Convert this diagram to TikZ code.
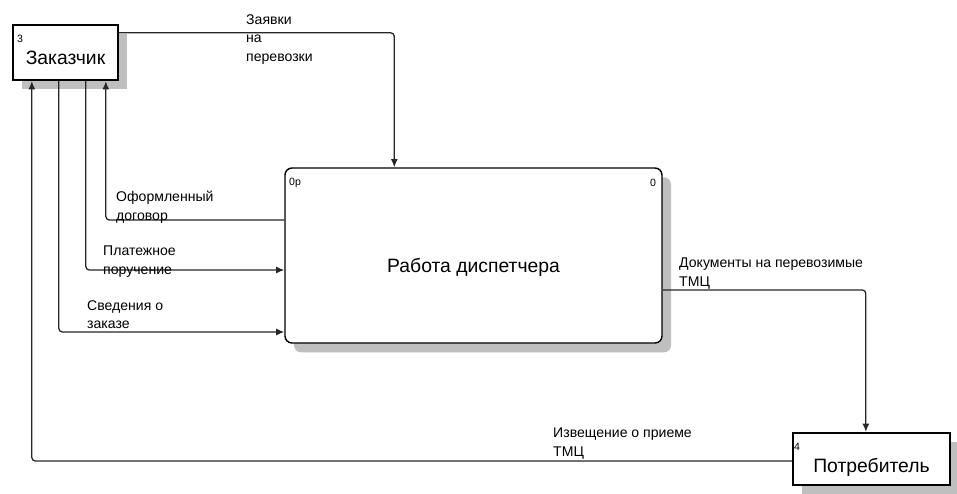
\documentclass[tikz,border=0pt]{standalone}
\usepackage{fontspec}
\setmainfont{Liberation Sans}
\usetikzlibrary{arrows.meta,positioning,calc,shadows}

\begin{document}
\begin{tikzpicture}[
    x=0.03cm, y=-0.03cm,
    extbox/.style={rectangle, draw=black, line width=2pt, fill=white,
                   font=\fontsize{16.5}{20}\selectfont,
                   drop shadow={shadow xshift=0.27cm, shadow yshift=-0.27cm,
                                fill=gray!50, opacity=1}},
    actbox/.style={rectangle, rounded corners=6pt, draw=black, line width=1.2pt, fill=white,
                   font=\fontsize{16.5}{20}\selectfont,
                   minimum width=11.31cm, minimum height=5.25cm,
                   drop shadow={shadow xshift=0.27cm, shadow yshift=-0.28cm,
                                fill=gray!50, opacity=1}},
    numlbl/.style={font=\fontsize{9}{10}\selectfont, inner sep=0pt},
    lbl/.style={font=\fontsize{12}{16}\selectfont, align=left, inner sep=0pt, anchor=north west},
    flow/.style={line width=1.1pt, draw=black!85, rounded corners=3pt,
                 -{Latex[length=7pt,width=6pt]}}
  ]
    \useasboundingbox (0,0) rectangle (957,493);

    \node[extbox, minimum width=3.15cm, minimum height=1.65cm] (zak) at (65.5,52.5)
        {\raisebox{-4.5pt}[\height][\depth]{Заказчик}};
    \node[actbox] (rab) at (473.5,255.5)
        {\raisebox{-10.5pt}[\height][\depth]{Работа диспетчера}};
    \node[extbox, minimum width=4.71cm, minimum height=1.56cm] (potr) at (871.5,459)
        {\raisebox{-7.5pt}[\height][\depth]{Потребитель}};

    % Numbers
    \node[numlbl] (zaknum) at (20,39) {3};
    \node[numlbl] (rabnum) at (295,183) {0р};
    \node[numlbl] (rabnode) at (653,183) {0};
    \node[numlbl] (potrnum) at (797,447) {4};

    % Arrows
    \draw[flow] ($(zak.north east)+(0,9)$) -| ($(rab.north west)+(110,0)$);
    \draw[flow] ($(rab.west)+(0,-35.5)$) -| ($(zak.south west)+(94,0)$);
    \draw[flow] ($(zak.south west)+(74,0)$) |- ($(rab.west)+(0,14.5)$);
    \draw[flow] ($(zak.south west)+(47,0)$) |- ($(rab.west)+(0,76.5)$);
    \draw[flow] ($(rab.east)+(0,34.5)$) -| ($(potr.north west)+(74,0)$);
    \draw[flow] ($(potr.west)+(0,2)$) -| ($(zak.south west)+(20,0)$);

    % Labels
    \node[lbl] (zayvlbl) at (246,14) {Заявки\\на\\перевозки};
    \node[lbl] (dogovlbl) at (116,191) {Оформленный\\договор};
    \node[lbl] (platlbl) at (103,246) {Платежное\\поручение};
    \node[lbl] (svedlbl) at (87,300) {Сведения о\\заказе};
    \node[lbl] (doclbl) at (679,258) {Документы на перевозимые\\ТМЦ};
    \node[lbl] (izvlbl) at (553,428) {Извещение о приеме\\ТМЦ};
  \end{tikzpicture}
\end{document}
